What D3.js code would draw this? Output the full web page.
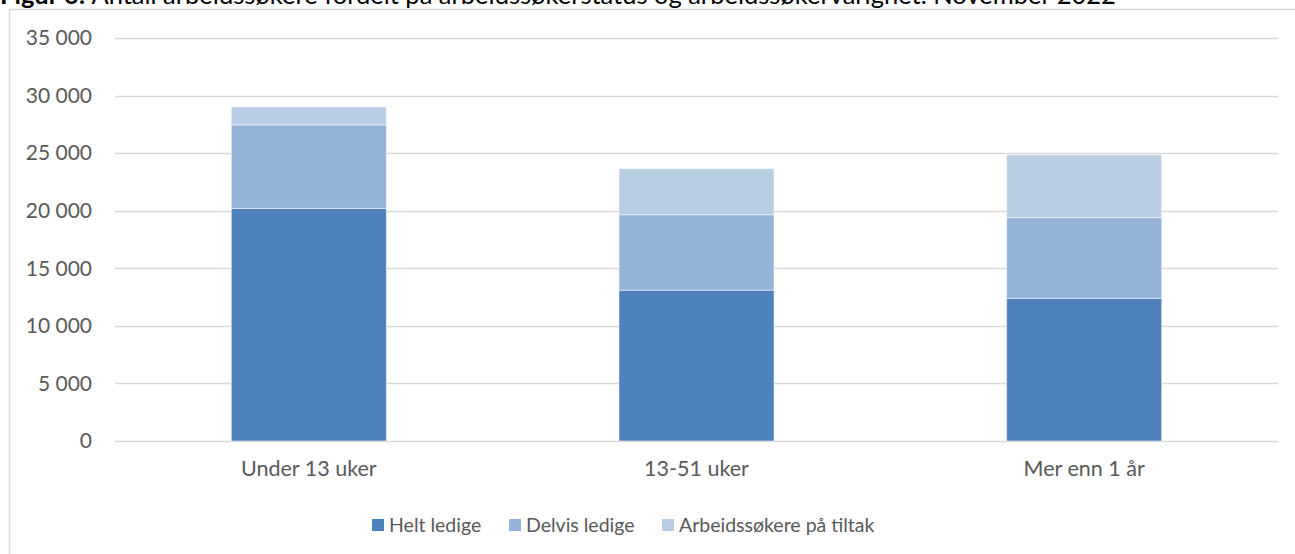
<!DOCTYPE html>
<html>
<head>
<meta charset="utf-8">
<script src="https://cdn.jsdelivr.net/npm/d3@7"></script>
<style>
  body { margin: 0; background: #fff; }
  svg text { font-family: Lato, "Open Sans", sans-serif; }
</style>
</head>
<body>
<div id="chart"></div>
<script>
var categories = ["Under 13 uker", "13-51 uker", "Mer enn 1 år"];
var seriesNames = ["Helt ledige", "Delvis ledige", "Arbeidssøkere på tiltak"];
var heltLedige = [20200, 13100, 12400];
var delvisLedige = [7250, 6550, 7000];
var tiltak = [1570, 4000, 5450];
var yTicks = [0, 5000, 10000, 15000, 20000, 25000, 30000, 35000];
var colors = ["#4f81bd", "#95b3d7", "#b9cde5"];

var svg = d3.select("#chart")
    .append("svg")
    .attr("width", 1295)
    .attr("height", 554);

var margin = {top: 38, right: 17, bottom: 113, left: 115};
var width = 1295 - margin.left - margin.right;
var height = 554 - margin.top - margin.bottom;

// chart frame
svg.append("rect")
    .attr("x", 9.5)
    .attr("y", 9.5)
    .attr("width", 1300)
    .attr("height", 600)
    .attr("fill", "#fff")
    .attr("stroke", "#d9d9d9")
    .attr("stroke-width", 1.5);

// cropped title
var title = svg.append("text")
    .attr("x", 0)
    .attr("y", 4)
    .style("font-size", "25.5px")
    .attr("fill", "#000");
title.append("tspan").style("font-weight", "bold").text("Figur 6: ");
title.append("tspan").text("Antall arbeidssøkere fordelt på arbeidssøkerstatus og arbeidssøkervarighet. November 2022");

var data = categories.map(function(c, i) {
  var row = {category: c};
  row[seriesNames[0]] = heltLedige[i];
  row[seriesNames[1]] = delvisLedige[i];
  row[seriesNames[2]] = tiltak[i];
  return row;
});

var x = d3.scaleBand()
    .domain(categories)
    .range([0, width])
    .paddingInner(0.6)
    .paddingOuter(0.3);

var y = d3.scaleLinear()
    .domain([0, 35000])
    .range([height, 0]);

var color = d3.scaleOrdinal().domain(seriesNames).range(colors);

var g = svg.append("g")
    .attr("transform", "translate(" + margin.left + "," + margin.top + ")");

var fmt = function(d) { return d3.format(",")(d).replace(/,/g, " "); };

// gridlines
g.append("g")
    .selectAll("line")
    .data(yTicks)
  .enter().append("line")
    .attr("x1", 0)
    .attr("x2", width)
    .attr("y1", function(d) { return Math.round(y(d)) + 0.5; })
    .attr("y2", function(d) { return Math.round(y(d)) + 0.5; })
    .attr("stroke", "#d9d9d9")
    .attr("stroke-width", 1.3);

var yAxis = g.append("g")
    .call(d3.axisLeft(y).tickValues(yTicks).tickFormat(fmt).tickSize(0).tickPadding(23));
yAxis.select(".domain").remove();
yAxis.selectAll("text")
    .style("font-size", "21px")
    .attr("fill", "#595959");

var stack = d3.stack().keys(seriesNames);

var layer = g.selectAll(".layer")
    .data(stack(data))
  .enter().append("g")
    .attr("class", "layer")
    .attr("fill", function(d) { return color(d.key); });

layer.selectAll("rect")
    .data(function(d) { return d; })
  .enter().append("rect")
    .attr("x", function(d) { return x(d.data.category); })
    .attr("y", function(d) { return y(d[1]); })
    .attr("width", x.bandwidth())
    .attr("height", function(d) { return y(d[0]) - y(d[1]); })
    .attr("stroke", "#ffffff")
    .attr("stroke-opacity", 0.5)
    .attr("stroke-width", 1);

var xAxis = g.append("g")
    .attr("transform", "translate(0," + height + ")")
    .call(d3.axisBottom(x).tickSize(0).tickPadding(20));
xAxis.select(".domain").remove();
xAxis.selectAll("text")
    .style("font-size", "21.5px")
    .attr("fill", "#595959");

// legend
var legendX = [372, 509, 662];
var legend = svg.append("g")
    .selectAll("g")
    .data(seriesNames)
  .enter().append("g")
    .attr("transform", function(d, i) { return "translate(" + legendX[i] + ",519)"; });

legend.append("rect")
    .attr("width", 12)
    .attr("height", 12)
    .attr("fill", function(d) { return color(d); });

legend.append("text")
    .attr("x", 17)
    .attr("y", 13)
    .style("font-size", "19.5px")
    .attr("fill", "#595959")
    .text(function(d) { return d; });
</script>
</body>
</html>
